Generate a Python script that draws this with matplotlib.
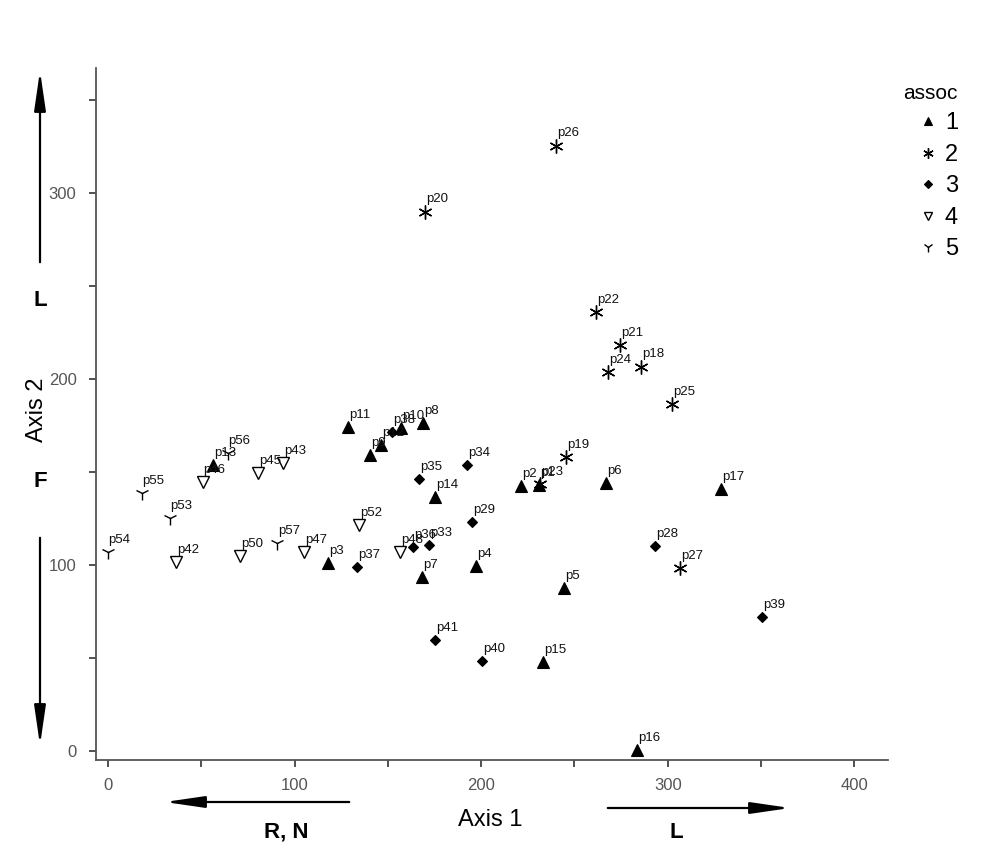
import matplotlib
matplotlib.use("Agg")
import matplotlib.pyplot as plt
from matplotlib import font_manager
from matplotlib.lines import Line2D

names_avail = {f.name for f in font_manager.fontManager.ttflist}
SANS = "Liberation Sans" if "Liberation Sans" in names_avail else "DejaVu Sans"
NARROW = "Liberation Sans Narrow" if "Liberation Sans Narrow" in names_avail else SANS

# ---- data ----
labels1 = ["p1", "p2", "p3", "p4", "p5", "p6", "p7", "p8", "p9", "p10", "p11", "p12", "p13", "p14", "p15", "p16", "p17"]
x1 = [231.1, 221.4, 117.9, 197.3, 244.5, 267.0, 168.4, 168.9, 140.5, 157.1, 128.7, 146.4, 56.3, 175.3, 233.2, 283.6, 328.7]
y1 = [143.0, 142.5, 101.1, 99.5, 87.6, 144.1, 93.5, 176.3, 159.1, 173.7, 174.2, 164.5, 153.8, 136.6, 47.8, 0.5, 140.9]

labels2 = ["p18", "p19", "p20", "p21", "p22", "p23", "p24", "p25", "p26", "p27"]
x2 = [285.8, 245.6, 170.0, 274.5, 261.7, 231.6, 268.1, 302.4, 240.2, 306.7]
y2 = [206.5, 158.1, 289.8, 218.3, 236.0, 143.5, 203.8, 186.6, 325.3, 98.4]

labels3 = ["p28", "p29", "p33", "p34", "p35", "p36", "p37", "p38", "p39", "p40", "p41"]
x3 = [293.3, 195.2, 172.1, 192.5, 166.8, 163.5, 133.5, 152.3, 350.7, 200.5, 175.3]
y3 = [110.2, 123.1, 110.8, 153.8, 146.2, 109.7, 98.9, 171.5, 72.0, 48.4, 59.7]

labels4 = ["p42", "p43", "p45", "p46", "p47", "p48", "p50", "p52"]
x4 = [36.5, 93.8, 80.4, 50.9, 105.1, 156.6, 70.8, 134.6]
y4 = [101.6, 154.8, 149.5, 144.6, 107.0, 107.0, 104.8, 121.5]

labels5 = ["p53", "p54", "p55", "p56", "p57"]
x5 = [33.2, 0.0, 18.2, 64.3, 90.6]
y5 = [125.3, 107.0, 138.7, 160.2, 111.8]

groups = ["1", "2", "3", "4", "5"]
x_ticks = [0, 100, 200, 300, 400]
y_ticks = [0, 100, 200, 300]

styles = {
    "1": dict(marker="^", ms=8, mfc="black", mec="black", mew=0.8),
    "2": dict(marker=(6, 2, 0), ms=10, mfc="black", mec="black", mew=1.0),
    "3": dict(marker="D", ms=5.5, mfc="black", mec="black", mew=0.8),
    "4": dict(marker="v", ms=8, mfc="white", mec="black", mew=1.0),
    "5": dict(marker="1", ms=10, mfc="black", mec="black", mew=1.0),
}

fig = plt.figure(figsize=(9.91, 8.52), dpi=100)
ax = fig.add_axes([96 / 991, (852 - 760) / 852, 792 / 991, 692 / 852])

data = [(labels1, x1, y1), (labels2, x2, y2), (labels3, x3, y3), (labels4, x4, y4), (labels5, x5, y5)]
for g, (labs, xs, ys) in zip(groups, data):
    ax.plot(xs, ys, linestyle="none", **styles[g])
    for lab, xv, yv in zip(labs, xs, ys):
        ax.annotate(lab, (xv, yv), xytext=(0.5, 4.5), textcoords="offset points",
                    ha="left", va="bottom", fontsize=9.5, family=SANS, color="#111111")

ax.set_xlim(-6.4, 418)
ax.set_ylim(-4.8, 367)
for s in ["top", "right"]:
    ax.spines[s].set_visible(False)
for s in ["left", "bottom"]:
    ax.spines[s].set_color("#555555")
    ax.spines[s].set_linewidth(1.3)

ax.set_xticks(x_ticks)
ax.set_xticklabels([str(v) for v in x_ticks])
ax.set_xticks([50, 150, 250, 350], minor=True)
ax.set_yticks(y_ticks)
ax.set_yticklabels([str(v) for v in y_ticks])
ax.set_yticks([50, 150, 250, 350], minor=True)
ax.tick_params(which="both", length=5, width=1.2, color="#333333", direction="out")
ax.tick_params(axis="x", which="major", pad=8)
ax.tick_params(axis="y", which="major", pad=9)
for t in ax.get_xticklabels() + ax.get_yticklabels():
    t.set_fontsize(12)
    t.set_family(NARROW)
    t.set_color("#555555")

# axis titles
fig.text(490 / 991, 1 - 820 / 852, "Axis 1", ha="center", va="center", fontsize=17, family=NARROW)
fig.text(37 / 991, 1 - 410 / 852, "Axis 2", ha="center", va="center", fontsize=17, family=NARROW, rotation=90)

# direction arrows & letters
def farrow(x0, y0, x1_, y1_):
    fig.add_artist(matplotlib.patches.FancyArrowPatch(
        (x0 / 991, 1 - y0 / 852), (x1_ / 991, 1 - y1_ / 852), transform=fig.transFigure,
        arrowstyle="-|>,head_length=24,head_width=3.5", lw=1.6, color="black", mutation_scale=1))

farrow(40, 265, 40, 68)
farrow(40, 535, 40, 748)
farrow(352, 802, 162, 802)
farrow(605, 808, 793, 808)
fig.text(40 / 991, 1 - 300 / 852, "L", ha="center", va="center", fontsize=16, fontweight="bold", family=SANS)
fig.text(40 / 991, 1 - 482 / 852, "F", ha="center", va="center", fontsize=16, fontweight="bold", family=SANS)
fig.text(286 / 991, 1 - 832 / 852, "R, N", ha="center", va="center", fontsize=16, fontweight="bold", family=NARROW)
fig.text(676 / 991, 1 - 832 / 852, "L", ha="center", va="center", fontsize=16, fontweight="bold", family=NARROW)

# legend
handles = [Line2D([], [], linestyle="none", **dict(styles[g], ms=styles[g]["ms"] * 0.75)) for g in groups]
leg = fig.legend(handles, groups, title="assoc", loc="upper right", bbox_to_anchor=(958 / 991, 1 - 84 / 852),
                 frameon=False, handlelength=0.8, handletextpad=0.3, borderpad=0,
                 labelspacing=0.4, borderaxespad=0, prop={"family": SANS, "size": 17})
leg.get_title().set_family(SANS)
leg.get_title().set_fontsize(15)
leg._legend_box.align = "right"

fig.savefig("out.png", dpi=100)
